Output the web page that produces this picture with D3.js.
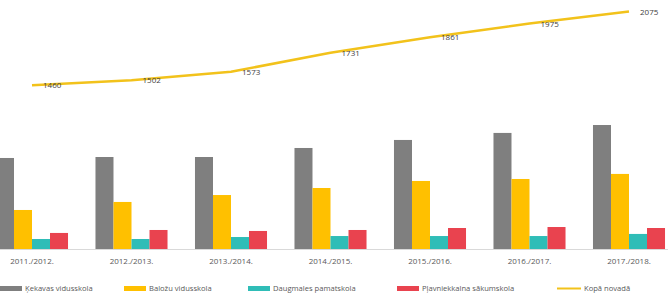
<!DOCTYPE html>
<html><head><meta charset="utf-8">
<script src="https://cdn.jsdelivr.net/npm/d3@7"></script>
<style>body{margin:0;background:#fff}svg{display:block}text{font-family:"Open Sans","DejaVu Sans",sans-serif}</style>
</head><body><svg id="c" width="668" height="303"></svg>
<script>
const categories = ["2011./2012.","2012./2013.","2013./2014.","2014./2015.","2015./2016.","2016./2017.","2017./2018."];
const seriesNames = ["Ķekavas vidusskola","Baložu vidusskola","Daugmales pamatskola","Pļavniekkalna sākumskola"];
const kekava   = [828, 837, 837, 919, 992, 1056, 1128];
const balozi   = [355, 428, 491, 555, 619, 637, 683];
const daugmale = [91, 91, 109, 118, 118, 118, 137];
const plavniek = [146, 173, 164, 173, 191, 200, 191];
const totalName = "Kopā novadā";
const total = [1460, 1502, 1573, 1731, 1861, 1975, 2075];
const colors = ["#7f7f7f","#ffc000","#2fbdb7","#e9434f"];
const lineColor = "#f2c21b";

const svg = d3.select("#c");
const series = [kekava, balozi, daugmale, plavniek];
const x0 = d3.scaleBand().domain(categories).range([-17.75, 678.75]).paddingInner(0.276).paddingOuter(0.138);
const x1 = d3.scaleBand().domain(d3.range(series.length)).range([0, x0.bandwidth()]);
const y = d3.scaleLinear().domain([0, 1200]).range([249, 117.1]);
const yL = d3.scaleLinear().domain([1000, 2200]).range([140.5, -3.5]);

// baseline
svg.append("line").attr("x1",0).attr("x2",668).attr("y1",y(0)+0.5).attr("y2",y(0)+0.5).attr("stroke","#d9d9d9");

// bars
const g = svg.append("g");
categories.forEach((c, ci) => {
  series.forEach((s, si) => {
    g.append("rect").attr("x", x0(c) + x1(si)).attr("width", x1.bandwidth())
      .attr("y", y(s[ci])).attr("height", y(0) - y(s[ci])).attr("fill", colors[si]);
  });
});

// category axis
const ax = svg.append("g").attr("transform", `translate(0,${y(0)})`)
  .call(d3.axisBottom(x0).tickSize(0).tickPadding(9));
ax.select(".domain").remove();
ax.selectAll("text").attr("font-size", 8).attr("fill", "#595959").attr("font-family", '"Open Sans",sans-serif');

// line
const line = d3.line().x((d,i) => x0(categories[i]) + x0.bandwidth()/2).y(d => yL(d));
svg.append("path").datum(total).attr("d", line).attr("fill","none").attr("stroke",lineColor).attr("stroke-width",2.5).attr("stroke-linejoin","round");
svg.selectAll(".lbl").data(total).join("text").attr("class","lbl")
  .attr("x", (d,i) => x0(categories[i]) + x0.bandwidth()/2 + 11)
  .attr("y", d => yL(d) + 3).attr("font-size", 8).attr("fill", "#404040").text(d => d);

// legend
const legendX = [0, 124, 248, 397, 557];
const lg = svg.append("g");
seriesNames.forEach((n, i) => {
  lg.append("rect").attr("x", legendX[i]).attr("y", 286).attr("width", 22).attr("height", 5).attr("fill", colors[i]);
  lg.append("text").attr("x", legendX[i] + 25).attr("y", 291).attr("font-size", 7.6).attr("fill", "#595959").text(n);
});
lg.append("line").attr("x1", legendX[4]).attr("x2", legendX[4] + 24).attr("y1", 288.5).attr("y2", 288.5).attr("stroke", lineColor).attr("stroke-width", 2);
lg.append("text").attr("x", legendX[4] + 27).attr("y", 291).attr("font-size", 7.6).attr("fill", "#595959").text(totalName);
</script></body></html>
